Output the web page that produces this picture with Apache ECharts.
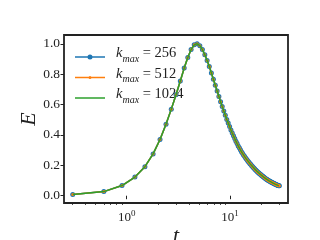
<!DOCTYPE html>
<html>
<head>
<meta charset="utf-8">
<script src="https://cdn.jsdelivr.net/npm/echarts@6/dist/echarts.min.js"></script>
<style>html,body{margin:0;padding:0;background:#fff}#c{width:320px;height:240px}</style>
</head>
<body>
<div id="c"></div>
<script>
const tValues = [0.3,0.6,0.9,1.2,1.5,1.8,2.1,2.4,2.7,3.0,3.3,3.6,3.9,4.2,4.5,4.8,5.1,5.4,5.7,6.0,
6.3,6.6,6.9,7.2,7.5,7.8,8.1,8.4,8.7,9.0,9.3,9.6,9.9,10.2,10.5,10.8,11.1,11.4,11.7,12.0,
12.3,12.6,12.9,13.2,13.5,13.8,14.1,14.4,14.7,15.0,15.3,15.6,15.9,16.2,16.5,16.8,17.1,17.4,17.7,18.0,
18.3,18.6,18.9,19.2,19.5,19.8,20.1,20.4,20.7,21.0,21.3,21.6,21.9,22.2,22.5,22.8,23.1,23.4,23.7,24.0,
24.3,24.6,24.9,25.2,25.5,25.8,26.1,26.4,26.7,27.0,27.3,27.6,27.9,28.2,28.5,28.8,29.1,29.4,29.7,30.0];
const eValues = [0.008,0.027,0.067,0.123,0.191,0.275,0.370,0.470,0.570,0.665,0.755,0.840,0.910,0.962,0.993,1.000,0.988,0.962,0.928,0.890,
0.850,0.808,0.767,0.727,0.689,0.653,0.619,0.587,0.557,0.529,0.502,0.478,0.455,0.433,0.413,0.394,0.376,0.359,0.343,0.328,
0.315,0.302,0.290,0.279,0.268,0.259,0.250,0.241,0.233,0.226,0.218,0.211,0.205,0.198,0.192,0.186,0.180,0.175,0.170,0.165,
0.160,0.155,0.151,0.147,0.143,0.139,0.135,0.131,0.128,0.124,0.121,0.118,0.115,0.112,0.109,0.107,0.104,0.102,0.099,0.097,
0.095,0.093,0.091,0.089,0.087,0.085,0.083,0.081,0.080,0.078,0.076,0.075,0.073,0.072,0.070,0.069,0.068,0.067,0.066,0.065];
const seriesNames = ['256','512','1024'];
const seriesColors = ['#1f77b4','#ff7f0e','#2ca02c'];
const yTicks = [0,0.2,0.4,0.6,0.8,1.0];
const xMajorTicks = [1,10];
const xMinorTicks = [0.3,0.4,0.5,0.6,0.7,0.8,0.9,2,3,4,5,6,7,8,9,20,30];

const serif = '"Liberation Serif", "DejaVu Serif", serif';
const pts = tValues.map((t,i)=>[t, eValues[i]]);
const legendIcons = [
  'path://M0,1.8h30v1.4h-30z M12.5,2.5a2.5,2.5 0 1,1 5,0a2.5,2.5 0 1,1 -5,0z',
  'path://M0,0.8h30v1.4h-30z M13.5,1.5a1.5,1.5 0 1,1 3,0a1.5,1.5 0 1,1 -3,0z',
  'path://M0,0h30v1.5h-30z'
];
const chart = echarts.init(document.getElementById('c'), null, {renderer:'canvas'});
const xBase = {type:'log', logBase:10, min:0.247, max:36.4, gridIndex:0, position:'bottom'};
chart.setOption({
  animation:false,
  grid:{left:64,right:32,top:35,bottom:37,show:true,borderColor:'#222',borderWidth:1.8,
        backgroundColor:'transparent',containLabel:false,outerBoundsMode:'none'},
  legend:{
    left:75, top:46, padding:0, orient:'vertical', itemWidth:30, itemHeight:5, itemGap:2.5, z:1,
    symbolKeepAspect:true,
    data: seriesNames.map((n,i)=>({name:'k'+n, icon:legendIcons[i]})),
    formatter: n => '{k|k}{s|max}{e| = ' + n.slice(1) + '}',
    textStyle:{fontFamily:serif, padding:[0,0,0,6], rich:{
      k:{fontFamily:serif,fontStyle:'italic',fontSize:14.5,color:'#222',lineHeight:14,verticalAlign:'bottom',padding:[0,0,3,0]},
      s:{fontFamily:serif,fontStyle:'italic',fontSize:10,color:'#222',verticalAlign:'bottom',lineHeight:10},
      e:{fontFamily:serif,fontSize:14.5,color:'#222',lineHeight:14,verticalAlign:'bottom',padding:[0,0,3,0]}
    }}
  },
  xAxis:[
    Object.assign({}, xBase, {
      name:'t', nameLocation:'middle', nameGap:22, nameMoveOverlap:false,
      nameTextStyle:{fontFamily:serif,fontStyle:'italic',fontSize:22,color:'#222'},
      axisLine:{show:false}, splitLine:{show:false},
      axisTick:{show:true,length:3.5,inside:false,customValues:xMajorTicks,lineStyle:{color:'#222',width:1}},
      minorTick:{show:false},
      axisLabel:{customValues:xMajorTicks, margin:6, color:'#222', fontFamily:serif,
        formatter: v => '{b|10}{s|' + Math.round(Math.log10(v)) + '}',
        rich:{b:{fontFamily:serif,fontSize:13,color:'#222',verticalAlign:'bottom'},
              s:{fontFamily:serif,fontSize:9,color:'#222',verticalAlign:'bottom',padding:[0,0,6,0]}}}
    }),
    Object.assign({}, xBase, {
      axisLine:{show:false}, splitLine:{show:false}, axisLabel:{show:false},
      axisTick:{show:true,length:2,customValues:xMinorTicks,lineStyle:{color:'#222',width:0.8}}
    })
  ],
  yAxis:{type:'value', min:-0.048, max:1.058, position:'left',
    name:'E', nameLocation:'middle', nameGap:24, nameRotate:90, nameMoveOverlap:false,
    nameTextStyle:{fontFamily:serif,fontStyle:'italic',fontSize:22,color:'#222'},
    axisLine:{show:false}, splitLine:{show:false},
    axisTick:{show:true,length:3.5,inside:false,customValues:yTicks,lineStyle:{color:'#222',width:1}},
    axisLabel:{customValues:yTicks, margin:4, color:'#222', fontFamily:serif, fontSize:13.5,
      formatter: v => v.toFixed(1)}
  },
  series:[
    {name:'k256', type:'line', data:pts, color:seriesColors[0], symbol:'circle', symbolSize:5, showSymbol:true,
     lineStyle:{width:1.5}, itemStyle:{color:seriesColors[0]}, z:2},
    {name:'k512', type:'line', data:pts, color:seriesColors[1], symbol:'circle', symbolSize:3, showSymbol:true,
     lineStyle:{width:1.5}, itemStyle:{color:seriesColors[1]}, z:3},
    {name:'k1024', type:'line', data:pts, color:seriesColors[2], symbol:'none', showSymbol:false,
     lineStyle:{width:1.5}, itemStyle:{color:seriesColors[2]}, z:4}
  ]
});
</script>
</body>
</html>
